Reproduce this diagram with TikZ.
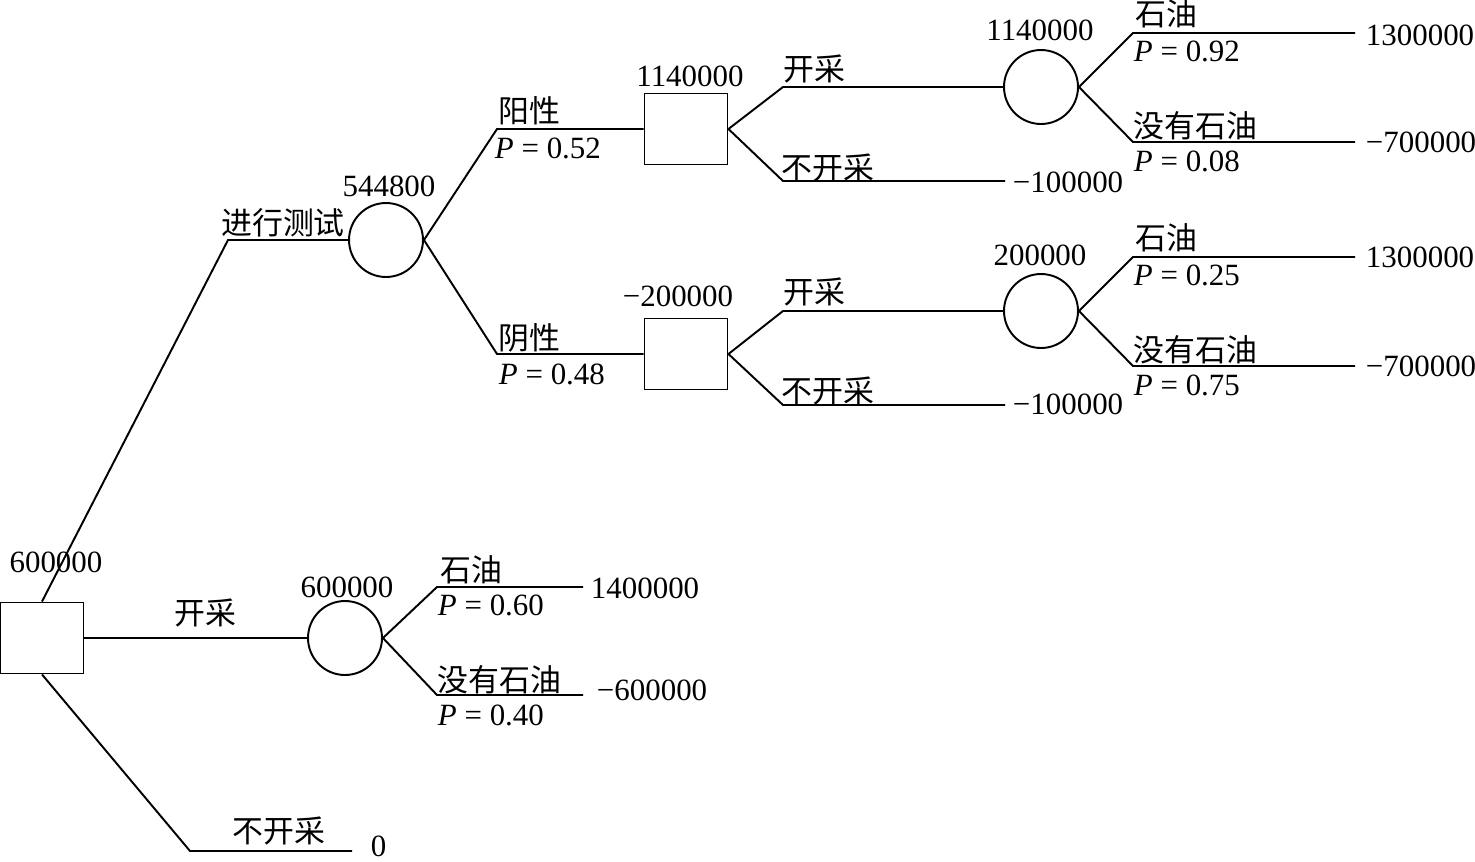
\documentclass[tikz,border=0pt]{standalone}
\usepackage{fontspec}
\setmainfont{Liberation Serif}
\newfontfamily\cjk{Noto Sans CJK SC}
\begin{document}
\begin{tikzpicture}[x=0.02cm,y=-0.02cm,line width=1.1pt,
  font=\fontsize{17.6}{20}\selectfont,
  decision/.style={draw,minimum width=1.66cm,minimum height=1.42cm,inner sep=0pt},
  chance/.style={draw,circle,minimum size=1.48cm,inner sep=0pt},
  txt/.style={inner sep=0pt,anchor=base},
  lbl/.style={inner sep=0pt,anchor=base west,font=\fontsize{17.6}{20}\selectfont\cjk},
  val/.style={inner sep=0pt,anchor=base west}]
\useasboundingbox (0,0) rectangle (1475,862);
% decision and chance nodes
\node[decision] (root) at (42,638) {};
\node[chance] (test) at (386,240) {};
\node[chance] (mine) at (345,638) {};
\node[decision] (pos) at (686,129) {};
\node[decision] (neg) at (686,354) {};
\node[chance] (posmine) at (1041,87) {};
\node[chance] (negmine) at (1041,311) {};
% bends and ends
\coordinate (k1) at (228,240);
\coordinate (k2) at (190,851); \coordinate (e0) at (352,851);
\coordinate (k3) at (437,587); \coordinate (e3) at (583,587);
\coordinate (k4) at (437,695); \coordinate (e4) at (583,695);
\coordinate (k5) at (497,129); \coordinate (k6) at (497,354);
\coordinate (k7) at (783,87); \coordinate (k8) at (783,181); \coordinate (e8) at (1005,181);
\coordinate (k9) at (783,311); \coordinate (k10) at (783,405); \coordinate (e10) at (1005,405);
\coordinate (k11) at (1133,33); \coordinate (e11) at (1355,33);
\coordinate (k12) at (1133,142); \coordinate (e12) at (1355,142);
\coordinate (k13) at (1133,257); \coordinate (e13) at (1355,257);
\coordinate (k14) at (1133,366); \coordinate (e14) at (1355,366);
% branches
\draw (root.north) -- (k1) -- (test.west);
\draw (root.east) -- (mine.west);
\draw (root.south) -- (k2) -- (e0);
\draw (mine.east) -- (k3) -- (e3);
\draw (mine.east) -- (k4) -- (e4);
\draw (test.east) -- (k5) -- (pos.west);
\draw (test.east) -- (k6) -- (neg.west);
\draw (pos.east) -- (k7) -- (posmine.west);
\draw (pos.east) -- (k8) -- (e8);
\draw (neg.east) -- (k9) -- (negmine.west);
\draw (neg.east) -- (k10) -- (e10);
\draw (posmine.east) -- (k11) -- (e11);
\draw (posmine.east) -- (k12) -- (e12);
\draw (negmine.east) -- (k13) -- (e13);
\draw (negmine.east) -- (k14) -- (e14);
% expected values
\node[txt] (vroot) at (56,572) {600000};
\node[txt] (vtest) at (389,196) {544800};
\node[txt] (vmine) at (347,597) {600000};
\node[txt] (vpos) at (690,86) {1140000};
\node[txt] (vneg) at (678,306) {−200000};
\node[txt] (vposmine) at (1040,40) {1140000};
\node[txt] (vnegmine) at (1040,265) {200000};
% branch labels
\node[lbl,anchor=base] (ltest) at (283,234) {进行测试};
\node[lbl,anchor=base] (lmine) at (205,624) {开采};
\node[lbl,anchor=base] (lno) at (279,842) {不开采};
\node[lbl] (lpos) at (498,122) {阳性};
\node[val] (ppos) at (494,158) {\textit{P} = 0.52};
\node[lbl] (lneg) at (498,349) {阴性};
\node[val] (pneg) at (498,384) {\textit{P} = 0.48};
\node[lbl] (lposyes) at (783,80) {开采};
\node[lbl] (lposno) at (781,179) {不开采};
\node[lbl] (lnegyes) at (783,303) {开采};
\node[lbl] (lnegno) at (781,402) {不开采};
\node[lbl] (loil1) at (1135,26) {石油};
\node[val] (poil1) at (1133,61) {\textit{P} = 0.92};
\node[lbl] (ldry1) at (1133,137) {没有石油};
\node[val] (pdry1) at (1133,171) {\textit{P} = 0.08};
\node[lbl] (loil2) at (1135,249) {石油};
\node[val] (poil2) at (1133,285) {\textit{P} = 0.25};
\node[lbl] (ldry2) at (1133,361) {没有石油};
\node[val] (pdry2) at (1133,395) {\textit{P} = 0.75};
\node[lbl] (loil3) at (440,581) {石油};
\node[val] (poil3) at (437,615) {\textit{P} = 0.60};
\node[lbl] (ldry3) at (437,691) {没有石油};
\node[val] (pdry3) at (437,725) {\textit{P} = 0.40};
% payoffs
\node[val] (r0) at (370,856) {0};
\node[val] (r3) at (590,598) {1400000};
\node[val] (r4) at (596,700) {−600000};
\node[val] (r8) at (1012,192) {−100000};
\node[val] (r10) at (1012,414) {−100000};
\node[val] (r11) at (1365,45) {1300000};
\node[val] (r12) at (1365,152) {−700000};
\node[val] (r13) at (1365,267) {1300000};
\node[val] (r14) at (1365,376) {−700000};
\end{tikzpicture}
\end{document}
